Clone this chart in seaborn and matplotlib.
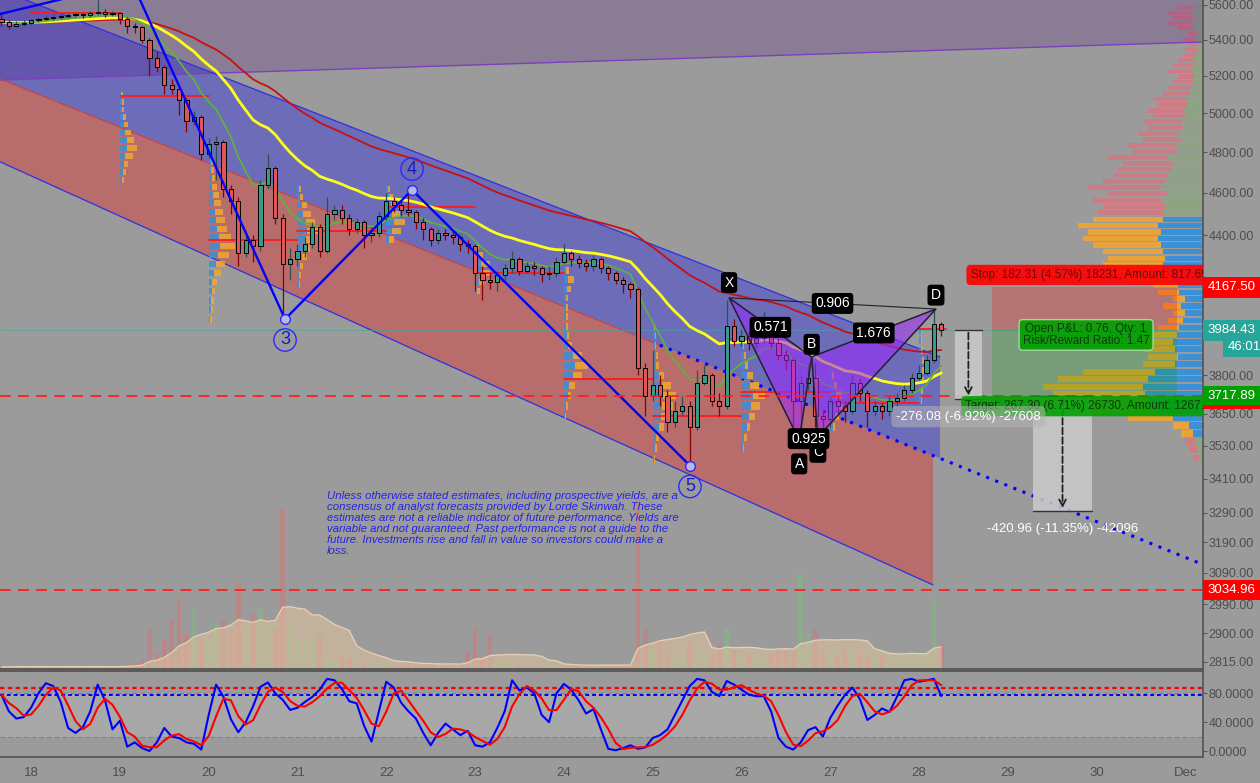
import numpy as np
import pandas as pd
import seaborn as sns
import matplotlib.pyplot as plt
import matplotlib.dates as mdates
from matplotlib.ticker import FixedLocator, FixedFormatter, NullLocator
from matplotlib.patches import Polygon, Rectangle

sns.set_theme(style="white")
plt.rcParams['font.family'] = ['Liberation Sans', 'DejaVu Sans']

BG = '#9b9b9b'

# ---- 2h candles from 17 Nov 16:00 ----
first_open = 5520
closes = [5500, 5480, 5490, 5495, 5510, 5520, 5525, 5530,
          5535, 5540, 5545, 5540, 5550, 5560, 5545, 5550,
          5520, 5480, 5470, 5400, 5300, 5250, 5150, 5130,
          5070, 4960, 4980, 4790, 4840, 4850, 4620, 4560,
          4320, 4380, 4350, 4640, 4720, 4480, 4270, 4290,
          4330, 4360, 4440, 4330, 4500, 4520, 4480, 4430,
          4460, 4400, 4410, 4490, 4560, 4540, 4520, 4510,
          4460, 4430, 4380, 4410, 4400, 4390, 4360, 4350,
          4230, 4200, 4190, 4220, 4250, 4290, 4240, 4260,
          4250, 4225, 4230, 4280, 4320, 4290, 4275, 4260,
          4290, 4250, 4230, 4200, 4180, 4160, 3830, 3720,
          3760, 3720, 3620, 3660, 3680, 3600, 3770, 3800,
          3700, 3680, 4000, 3940, 3960, 3930, 3950, 4030,
          3930, 3880, 3860, 3700, 3770, 3790, 3640, 3630,
          3700, 3680, 3660, 3770, 3730, 3660, 3680, 3660,
          3700, 3710, 3740, 3790, 3810, 3860, 4010, 3984.43]
highs = [5560, 5510, 5505, 5510, 5520, 5530, 5540, 5545,
         5545, 5550, 5555, 5555, 5565, 5630, 5575, 5565,
         5560, 5530, 5495, 5480, 5410, 5330, 5260, 5180,
         5140, 5080, 5010, 4990, 4870, 4880, 4860, 4640,
         4580, 4420, 4400, 4660, 4790, 4730, 4500, 4340,
         4360, 4390, 4460, 4450, 4580, 4540, 4540, 4500,
         4480, 4470, 4440, 4510, 4600, 4580, 4560, 4615,
         4520, 4480, 4440, 4430, 4430, 4420, 4400, 4380,
         4360, 4260, 4230, 4240, 4270, 4330, 4300, 4280,
         4280, 4260, 4260, 4300, 4360, 4330, 4310, 4290,
         4310, 4300, 4260, 4240, 4210, 4190, 4170, 3850,
         3900, 3800, 3740, 3700, 3720, 3700, 3820, 3840,
         3810, 3730, 4110, 4030, 3990, 3980, 3980, 4060,
         4040, 3950, 3900, 3870, 3800, 3850, 3850, 3660,
         3720, 3720, 3700, 3800, 3790, 3740, 3700, 3690,
         3720, 3730, 3760, 3810, 3840, 3880, 4073, 4020]
lows = [5480, 5460, 5470, 5480, 5485, 5500, 5510, 5515,
        5520, 5525, 5530, 5525, 5530, 5540, 5530, 5535,
        5490, 5440, 5440, 5380, 5200, 5220, 5100, 5100,
        4990, 4900, 4940, 4760, 4770, 4660, 4580, 4500,
        4260, 4300, 4280, 4330, 4620, 4450, 4030, 4200,
        4260, 4300, 4340, 4300, 4320, 4470, 4450, 4400,
        4410, 4340, 4370, 4390, 4470, 4510, 4490, 4490,
        4430, 4380, 4350, 4360, 4380, 4360, 4330, 4320,
        4150, 4110, 4160, 4150, 4200, 4230, 4220, 4230,
        4220, 4190, 4200, 4210, 4270, 4260, 4250, 4240,
        4240, 4230, 4200, 4180, 4140, 4120, 3800, 3640,
        3700, 3680, 3580, 3600, 3640, 3470, 3590, 3760,
        3680, 3640, 3670, 3920, 3920, 3900, 3910, 3930,
        3910, 3860, 3820, 3600, 3550, 3740, 3600, 3560,
        3600, 3650, 3620, 3650, 3700, 3600, 3640, 3630,
        3640, 3680, 3700, 3730, 3780, 3800, 3850, 3960]
volumes = [2, 2, 3, 2, 2, 3, 2, 2, 2, 3, 2, 2, 2, 3, 2, 2,
           3, 5, 6, 10, 40, 15, 30, 50, 70, 35, 60, 30, 28, 45, 50, 40,
           85, 38, 55, 60, 45, 40, 160, 50, 35, 30, 28, 35, 12, 10, 14, 10,
           8, 6, 6, 5, 7, 5, 4, 6, 5, 4, 5, 4, 5, 6, 5, 18,
           40, 12, 35, 10, 8, 6, 4, 4, 3, 4, 3, 4, 5, 4, 3, 4,
           4, 3, 4, 3, 4, 5, 170, 40, 20, 30, 15, 14, 18, 28, 20, 15,
           15, 25, 40, 22, 18, 15, 14, 16, 15, 20, 18, 20, 95, 35, 40, 18,
           15, 14, 18, 20, 15, 12, 15, 14, 16, 12, 15, 18, 16, 20, 70, 25]
stoch_k = [78, 55, 45, 47, 60, 80, 94, 90, 68, 32, 25, 33, 55, 92, 70, 30,
           42, 6, 12, 4, 0, 12, 32, 20, 18, 12, 10, 2, 50, 92, 75, 44,
           26, 40, 62, 89, 95, 80, 71, 57, 60, 68, 75, 85, 100, 98, 86, 69,
           66, 35, 13, 55, 96, 88, 67, 55, 45, 25, 8, 25, 38, 30, 22, 28,
           8, 6, 12, 32, 55, 98, 84, 88, 80, 50, 40, 80, 93, 85, 70, 52,
           58, 30, 3, 1, 4, 8, 3, 5, 18, 22, 30, 50, 70, 90, 100, 98,
           82, 76, 97, 92, 85, 78, 76, 76, 55, 18, 6, 2, 12, 29, 33, 20,
           46, 63, 78, 88, 72, 43, 50, 59, 54, 75, 98, 100, 96, 98, 100, 76]
stoch_upper, stoch_mark, stoch_lower = 87, 78, 20

# ---- visible-range volume profile, 30-point rows from 3470 ----
vp_bottom, vp_step = 3470, 30
vp_up = [4, 6, 8, 10, 14, 30, 45, 55, 58, 60,
         55, 48, 28, 25, 28, 30, 26, 24, 20, 18,
         22, 18, 24, 25, 32, 36, 40, 38, 40, 42,
         45, 42, 45, 40, 40, 38, 42, 36, 44, 38,
         35, 32, 30, 36, 26, 28, 22, 25, 20, 22,
         18, 20, 16, 18, 14, 12, 10, 9, 12, 10,
         9, 7, 6, 5, 7, 5, 9, 12, 10, 12, 9]
vp_down = [6, 8, 10, 12, 16, 45, 65, 95, 92, 100,
           90, 72, 32, 30, 32, 35, 29, 21, 15, 12,
           18, 12, 21, 25, 43, 54, 60, 57, 60, 68,
           75, 73, 80, 70, 65, 62, 68, 59, 71, 62,
           55, 53, 50, 59, 44, 47, 38, 40, 35, 38,
           32, 35, 29, 32, 26, 23, 20, 16, 23, 20,
           16, 13, 12, 10, 13, 10, 16, 23, 20, 23, 16]
va_low, va_high = 3560, 4490

# ---- daily session profiles: start day, lowest row price, up / down widths in hours ----
sess_step = 40
sess_days = [19, 20, 21, 22, 23, 24, 25, 26, 27, 28]
sess_bottoms = [4660, 4030, 4180, 4380, 4150, 3640, 3480, 3520, 3600, 3700]
sess_up = [
    [0.5, 0.8, 1.0, 1.5, 2.0, 1.8, 1.5, 1.0, 0.8, 0.6, 0.5, 0.4],
    [0.3, 0.5, 0.6, 0.8, 1.0, 1.5, 2.0, 2.5, 3.0, 2.8, 2.2, 2.0, 1.8, 1.5, 1.2, 1.0, 0.8, 0.6, 0.5],
    [0.3, 0.5, 0.8, 1.2, 1.6, 2.2, 2.6, 2.2, 1.6, 1.2, 0.8, 0.5],
    [0.8, 1.5, 2.0, 1.6, 1.2, 0.8, 0.4],
    [0.6, 1.0, 1.5, 1.6, 1.0, 0.5],
    [0.3, 0.6, 1.0, 1.5, 2.5, 3.0, 2.4, 1.2, 0.8, 0.6, 0.5, 0.5, 0.6, 0.8, 1.0, 0.6, 0.3],
    [0.4, 0.6, 1.0, 1.6, 2.2, 2.6, 2.8, 2.4, 1.6, 1.0, 0.8, 0.6, 0.5, 0.4],
    [0.4, 0.8, 1.4, 2.0, 2.6, 3.0, 2.4, 1.6, 1.0, 0.6, 0.4],
    [0.8, 1.2, 1.8, 1.6, 1.0, 0.5],
    [0.4, 0.6, 0.8, 0.8, 0.7, 0.6, 0.5, 0.4],
]
sess_down = [
    [0.5, 0.8, 1.2, 2.0, 2.5, 2.0, 1.5, 1.2, 0.8, 0.6, 0.5, 0.4],
    [0.5, 0.6, 0.8, 0.8, 1.2, 1.7, 2.3, 2.9, 4.0, 3.1, 2.7, 2.3, 2.0, 1.7, 1.5, 1.2, 0.8, 0.8, 0.6],
    [0.3, 0.5, 0.8, 1.3, 1.9, 2.6, 3.2, 2.6, 2.0, 1.3, 0.8, 0.5],
    [1.2, 2.5, 3.0, 2.2, 1.6, 1.0, 0.5],
    [0.8, 1.5, 2.5, 2.4, 1.2, 0.6],
    [0.3, 0.4, 0.8, 1.5, 2.5, 3.6, 2.6, 1.0, 0.6, 0.5, 0.5, 0.5, 0.6, 1.0, 1.6, 0.8, 0.4],
    [0.3, 0.5, 0.8, 1.4, 2.2, 2.8, 3.4, 2.6, 1.4, 0.8, 0.5, 0.4, 0.3, 0.3],
    [0.3, 0.6, 1.0, 1.6, 2.4, 3.4, 2.4, 1.4, 0.8, 0.5, 0.3],
    [0.6, 1.2, 1.6, 1.5, 0.8, 0.4],
    [0.3, 0.5, 0.6, 0.7, 0.6, 0.5, 0.4, 0.3],
]

# daily session points of control
poc_days = [18, 19, 20, 21, 22, 23, 24, 25, 26, 27, 28]
poc_prices = [5550, 5090, 4378, 4420, 4530, 4230, 3785, 3640, 3735, 3690, 3990]

# ---- drawings: (day of November, price) ----
ch_upper = [(17.65, 5689), (28.235, 3874)]
ch_mid = [(17.65, 5183), (31.197, 3117)]
ch_lower = [(17.65, 4752), (28.157, 3051)]
mauve_edge = [(17.65, 5177), (31.197, 5387)]
wave1_days, wave1_prices = [17.65, 18.78], [5547, 5689]
wave_days = [19.125, 20.86, 22.29, 25.42]
wave_prices = [5748, 4030, 4614, 3457]
wave_names = ['', '3', '4', '5']
xabcd_names = ['X', 'A', 'B', 'C', 'D']
xabcd_days = [25.86, 26.65, 26.79, 26.86, 28.19]
xabcd_prices = [4121, 3550, 3874, 3562, 4073]
ratio_pairs = [('X', 'B', '0.571'), ('A', 'C', '0.925'), ('B', 'D', '1.676'), ('X', 'D', '0.906')]

entry, stop, target = 3984.43, 4167.50, 3717.89
pos_days = (28.82, 30.90)
range1 = (28.40, 28.71, 3984.43, 3708.35, '-276.08 (-6.92%) -27608')
range2 = (29.28, 29.95, 3717.89, 3296.93, '-420.96 (-11.35%) -42096')
support_level = 3034.96

disclaimer = ("Unless otherwise stated estimates, including prospective yields, are a\n"
              "consensus of analyst forecasts provided by Lorde Skinwah. These\n"
              "estimates are not a reliable indicator of future performance. Yields are\n"
              "variable and not guaranteed. Past performance is not a guide to the\n"
              "future. Investments rise and fall in value so investors could make a\n"
              "loss.")

price_ticks = [5600, 5400, 5200, 5000, 4800, 4600, 4400, 3800, 3650,
               3530, 3410, 3290, 3190, 3090, 2990, 2900, 2815]
day_ticks = list(range(18, 32))
day_labels = [str(d) for d in range(18, 31)] + ['Dec']


def t(day):
    return mdates.date2num(pd.Timestamp('2018-11-01')) + day - 1


def at(line, day):
    (d0, v0), (d1, v1) = line
    f = (day - d0) / (d1 - d0)
    return 10 ** (np.log10(v0) + f * (np.log10(v1) - np.log10(v0)))


times = pd.date_range('2018-11-17 16:00', periods=len(closes), freq='2h')
df = pd.DataFrame({'close': closes, 'high': highs, 'low': lows,
                   'volume': volumes, 'k': stoch_k}, index=times)
df['open'] = df['close'].shift(1).fillna(first_open)
df['x'] = mdates.date2num(df.index.to_pydatetime())
df['d'] = df['k'].rolling(3, min_periods=1).mean()
df['ema_fast'] = df['close'].ewm(span=10, adjust=False).mean()
df['ema_mid'] = df['close'].ewm(span=25, adjust=False).mean()
df['ema_slow'] = df['close'].ewm(span=50, adjust=False).mean()
df['vol_ma'] = df['volume'].rolling(10, min_periods=1).mean()

W, H = 1260, 783
fig = plt.figure(figsize=(W / 100, H / 100), dpi=100, facecolor=BG)
ax = fig.add_axes([0, 1 - 669 / H, 1203 / W, 669 / H])
axs = fig.add_axes([0, 1 - 757 / H, 1203 / W, 86 / H], facecolor=BG, sharex=ax)
axv = ax.twinx()
axp = ax.twiny()
ax.set_zorder(3)
axp.set_zorder(2)
axv.set_zorder(1)
ax.patch.set_visible(False)

ax.set_yscale('log')
ax.set_xlim(t(17.65), t(31.197))
ax.set_ylim(2794, 5629)

# ---- channels ----
left, right_end = 17.65, 31.197
blue_r = ch_upper[1][0]
ax.add_patch(Polygon([(t(left), at(ch_upper, left)), (t(blue_r), at(ch_upper, blue_r)),
                      (t(blue_r), at(ch_mid, blue_r)), (t(left), at(ch_mid, left))],
                     closed=True, fc=(0, 0, 1, 0.3), ec='none', zorder=1))
red_r = ch_lower[1][0]
ax.add_patch(Polygon([(t(left), at(ch_mid, left)), (t(red_r), at(ch_mid, red_r)),
                      (t(red_r), at(ch_lower, red_r)), (t(left), at(ch_lower, left))],
                     closed=True, fc=(1, 0, 0, 0.3), ec='none', zorder=1))
ax.add_patch(Polygon([(t(left), at(mauve_edge, left)), (t(right_end), at(mauve_edge, right_end)),
                      (t(right_end), 7000), (t(left), 7000)],
                     closed=True, fc=(0.3, 0, 0.5, 0.2), ec='none', zorder=1))
ax.plot([t(left), t(right_end)], [at(mauve_edge, left), at(mauve_edge, right_end)],
        color='#7b3fbf', lw=1, zorder=2)
ax.plot([t(d) for d, _ in ch_upper], [p for _, p in ch_upper], color='#3030e0', lw=0.9, zorder=2)
ax.plot([t(d) for d, _ in ch_lower], [p for _, p in ch_lower], color='#3030e0', lw=0.9, zorder=2)
ax.plot([t(left), t(25.08)], [at(ch_mid, left), at(ch_mid, 25.08)], color='#d04040', lw=0.8, zorder=2)
ax.plot([t(25.08), t(right_end)], [at(ch_mid, 25.08), at(ch_mid, right_end)],
        color='#0000ff', lw=2.2, ls=(0, (1, 2.2)), zorder=2)

# ---- daily session profiles + POCs ----
for d, bot, su, sd in zip(sess_days, sess_bottoms, sess_up, sess_down):
    rp = bot + sess_step * np.arange(len(su))
    wu = np.array(su) / 24
    wd = np.array(sd) / 24
    ax.barh(rp, wu, left=t(d), height=sess_step * 0.72, color='#3d8fd6', alpha=0.85, lw=0, zorder=2.5)
    ax.barh(rp, wd, left=t(d) + wu, height=sess_step * 0.72, color='#f0a830', alpha=0.85, lw=0, zorder=2.5)
for d, p in zip(poc_days, poc_prices):
    end = min(d + 1, 28.3)
    ax.plot([t(d), t(end)], [p, p], color='#ff1a1a', lw=1.3, zorder=3)

# ---- moving averages ----
sns.lineplot(x=df['x'], y=df['ema_slow'], ax=ax, color='#c81010', lw=1.3, zorder=4)
sns.lineplot(x=df['x'], y=df['ema_mid'], ax=ax, color='#ffff1a', lw=2.0, zorder=4)
sns.lineplot(x=df['x'], y=df['ema_fast'], ax=ax, color='#5fb040', lw=1.3, zorder=4)

# ---- candles ----
up = df['close'] >= df['open']
bw = 2 / 24 * 0.55
ax.vlines(df['x'], df['low'], df['high'], colors=np.where(up, '#2f4f4f', '#8b0000'), lw=0.9, zorder=5)
ax.bar(df['x'][up], (df['close'] - df['open'])[up], bottom=df['open'][up], width=bw,
       color='#3a9a88', edgecolor='black', lw=0.7, zorder=6)
ax.bar(df['x'][~up], (df['open'] - df['close'])[~up], bottom=df['close'][~up], width=bw,
       color='#e05555', edgecolor='black', lw=0.7, zorder=6)

# ---- Elliott waves ----
ax.plot([t(d) for d in wave1_days], wave1_prices, color='#0000ff', lw=1.7, zorder=7)
ax.plot([t(d) for d in wave_days], wave_prices, color='#0000ff', lw=1.7, zorder=7)
for d, p, n in zip(wave_days, wave_prices, wave_names):
    if not n:
        continue
    ax.plot(t(d), p, 'o', ms=7, mfc='#b8b8e8', mec='#2a2aff', mew=1, zorder=8)
    off = 15 if n == '4' else -15
    ax.annotate(n, (t(d), p), xytext=(0, off), textcoords='offset points', ha='center', va='center',
                fontsize=13, color='#1a1acc', zorder=8,
                bbox=dict(boxstyle='circle,pad=0.15', fc='none', ec='#2a2aff', lw=1))

# ---- XABCD harmonic ----
hp = {n: (t(d), p) for n, d, p in zip(xabcd_names, xabcd_days, xabcd_prices)}
for tri in (('X', 'A', 'B'), ('B', 'C', 'D')):
    ax.add_patch(Polygon([hp[n] for n in tri], closed=True, fc=(0.62, 0.15, 1, 0.55),
                         ec='#202030', lw=1.1, zorder=7))
ax.plot(*zip(hp['X'], hp['D']), color='#202030', lw=0.8, zorder=7)
ax.plot(*zip(hp['A'], hp['C']), color='#202030', lw=0.8, ls='--', zorder=7)
offs = {'X': 11, 'A': -17, 'B': 9, 'C': -11, 'D': 10}
for n in xabcd_names:
    ax.annotate(n, hp[n], xytext=(0, offs[n]), textcoords='offset points', ha='center', va='center',
                fontsize=10, color='white', zorder=9,
                bbox=dict(boxstyle='round,pad=0.25', fc='black', ec='none'))
for a, b, r in ratio_pairs:
    mx = (hp[a][0] + hp[b][0]) / 2
    my = 10 ** ((np.log10(hp[a][1]) + np.log10(hp[b][1])) / 2)
    ax.text(mx, my, r, ha='center', va='center', fontsize=10, color='white', zorder=9,
            bbox=dict(boxstyle='round,pad=0.25', fc='black', ec='none'))

# ---- horizontal levels ----
ax.axhline(entry, color='#3fa8a0', lw=0.6, alpha=0.7, zorder=3)
ax.axhline(target, color='#ff2020', lw=1.3, ls=(0, (6, 4)), zorder=8)
ax.axhline(support_level, color='#ff2020', lw=1.3, ls=(0, (6, 4)), zorder=8)

# ---- short position tool ----
p0, p1 = t(pos_days[0]), t(pos_days[1])
ax.fill_between([p0, p1], entry, stop, color='red', alpha=0.25, lw=0, zorder=3)
ax.fill_between([p0, p1], target, entry, color='#00a000', alpha=0.22, lw=0, zorder=3)
ax.text(t(28.58), 4221, 'Stop: 182.31 (4.57%) 18231, Amount: 817.69', fontsize=8.5, color='#6a0c0c',
        va='center', ha='left', zorder=9, clip_on=True,
        bbox=dict(boxstyle='round,pad=0.35', fc='#ff0000', ec='none', alpha=0.9))
ax.text(t(28.52), 3679, 'Target: 267.30 (6.71%) 26730, Amount: 1267.30', fontsize=8.5, color='#0c3a0c',
        va='center', ha='left', zorder=9, clip_on=True,
        bbox=dict(boxstyle='round,pad=0.35', fc='#00a000', ec='none', alpha=0.9))
ax.text(t(29.88), 3964, 'Open P&L: 0.76, Qty: 1\nRisk/Reward Ratio: 1.47', fontsize=8.5, color='#0c3a0c',
        va='center', ha='center', linespacing=0.95, zorder=9,
        bbox=dict(boxstyle='round,pad=0.3', fc='#00a000', ec='#a8e0a8', lw=1, alpha=0.9))

# ---- price range tools ----
for d0, d1, ptop, pbot, lab in (range1, range2):
    ax.add_patch(Rectangle((t(d0), pbot), t(d1) - t(d0), ptop - pbot, fc='#cbcbcb', ec='none',
                           alpha=0.85, zorder=8))
    ax.plot([t(d0), t(d1)], [ptop, ptop], color='#333333', lw=1, zorder=8)
    ax.plot([t(d0), t(d1)], [pbot, pbot], color='#333333', lw=1, zorder=8)
    xc = (t(d0) + t(d1)) / 2
    ax.annotate('', xy=(xc, pbot), xytext=(xc, ptop), zorder=8,
                arrowprops=dict(arrowstyle='->', color='#222222', lw=1.3, ls='--'))
    box = dict(boxstyle='round,pad=0.35', fc='#b4b4b4', ec='none', alpha=0.55) if lab.startswith('-276') else None
    ax.annotate(lab, (xc, pbot), xytext=(0, -13), textcoords='offset points', ha='center', va='center',
                fontsize=9.5, color='white', zorder=9, bbox=box)

# ---- disclaimer ----
ax.text(t(21.33), 3366, disclaimer, fontsize=8.2, style='italic', color='#2424e6',
        va='top', ha='left', linespacing=1.12, zorder=9)

# ---- volume (bottom overlay) ----
axv.set_ylim(0, 669)
vcol = np.where(up, '#7cc07c', '#e07070')
axv.bar(df['x'], df['volume'], width=2 / 24 * 0.6, color=vcol, alpha=0.45, lw=0)
axv.fill_between(df['x'], 0, df['vol_ma'], color='#e8c8a0', alpha=0.5, lw=0)
axv.plot(df['x'], df['vol_ma'], color='#e6d0b4', lw=1)
axv.set_axis_off()

# ---- volume profile at the right ----
axp.set_xlim(1203, 0)
rows = vp_bottom + vp_step * np.arange(len(vp_up)) + vp_step / 2
in_va = (rows >= va_low) & (rows <= va_high)
up_c = np.where(in_va, '#3d8fd6', '#8ea382')
dn_c = np.where(in_va, '#e8a33a', '#cc7c84')
axp.barh(rows, vp_up, height=vp_step * 0.8, color=up_c, lw=0)
axp.barh(rows, vp_down, left=vp_up, height=vp_step * 0.8, color=dn_c, lw=0)
axp.set_axis_off()
ax.set_ylim(2794, 5629)

# ---- main axis styling ----
for s in ('top', 'left'):
    ax.spines[s].set_visible(False)
ax.spines['right'].set_color('#555555')
ax.spines['bottom'].set_color('#555555')
ax.spines['bottom'].set_linewidth(1.3)
ax.yaxis.tick_right()
ax.yaxis.set_major_locator(FixedLocator(price_ticks))
ax.yaxis.set_major_formatter(FixedFormatter([f'{v:.2f}' for v in price_ticks]))
ax.yaxis.set_minor_locator(NullLocator())
ax.tick_params(axis='y', which='major', length=3, width=0.8, color='#555555', pad=1,
               labelsize=9, labelcolor='#4d4d4d')
ax.tick_params(axis='x', which='both', length=0, labelbottom=False)


def price_tag(axis, y, text, fc, xpad=0.0):
    axis.text(1.0 + (4.5 + xpad) / 1203, y, text, transform=axis.get_yaxis_transform(), ha='left',
              va='center', fontsize=9.5, color='white', zorder=12, clip_on=False,
              bbox=dict(boxstyle='square,pad=0.34', fc=fc, ec='none'))


price_tag(ax, stop, '4167.50', '#ff0000')
price_tag(ax, entry, '3984.43', '#26a69a')
price_tag(ax, 3916, '46:01', '#26a69a', xpad=20)
price_tag(ax, target, '3717.89', '#00a000')
price_tag(ax, support_level, '3034.96', '#ff0000')
fig.patches.append(Rectangle((1203 / W, (H - 409) / H), 57 / W, 4 / H, transform=fig.transFigure,
                             fc='#ff0000', ec='none', zorder=20))

# ---- stochastic ----
axs.set_ylim(-8.3, 110.9)
axs.axhspan(stoch_lower, 80, color='#a8a8a8', lw=0, zorder=0)
axs.axhline(80, color='#808080', lw=0.8, ls=(0, (4, 3)), zorder=1)
axs.axhline(stoch_lower, color='#808080', lw=0.8, ls=(0, (4, 3)), zorder=1)
axs.axhline(stoch_upper, color='#ff0000', lw=1.6, ls=(0, (2, 1.5)), zorder=2)
axs.axhline(stoch_mark, color='#0000ff', lw=1.4, ls=(0, (2, 1.5)), zorder=2)
sns.lineplot(x=df['x'], y=df['k'], ax=axs, color='#0000ff', lw=1.5, zorder=3)
sns.lineplot(x=df['x'], y=df['d'], ax=axs, color='#ff0000', lw=1.5, zorder=4)
axs.set_xlabel('')
axs.set_ylabel('')
ax.set_xlabel('')
ax.set_ylabel('')
axs.spines['left'].set_visible(False)
for s in ('right', 'top', 'bottom'):
    axs.spines[s].set_color('#555555')
axs.spines['top'].set_linewidth(1.3)
axs.yaxis.tick_right()
axs.yaxis.set_major_locator(FixedLocator([0, 40, 80]))
axs.yaxis.set_major_formatter(FixedFormatter(['0.0000', '40.0000', '80.0000']))
axs.tick_params(axis='y', length=3, width=0.8, color='#555555', pad=1, labelsize=9, labelcolor='#4d4d4d')
axs.xaxis.set_major_locator(FixedLocator([t(d) for d in day_ticks]))
axs.xaxis.set_major_formatter(FixedFormatter(day_labels))
axs.xaxis.set_minor_locator(NullLocator())
axs.tick_params(axis='x', length=4, width=0.8, color='#555555', pad=3, labelsize=9.5, labelcolor='#4d4d4d')
ax.set_xlim(t(17.65), t(31.197))

fig.savefig('out.png', dpi=100, facecolor=BG)
